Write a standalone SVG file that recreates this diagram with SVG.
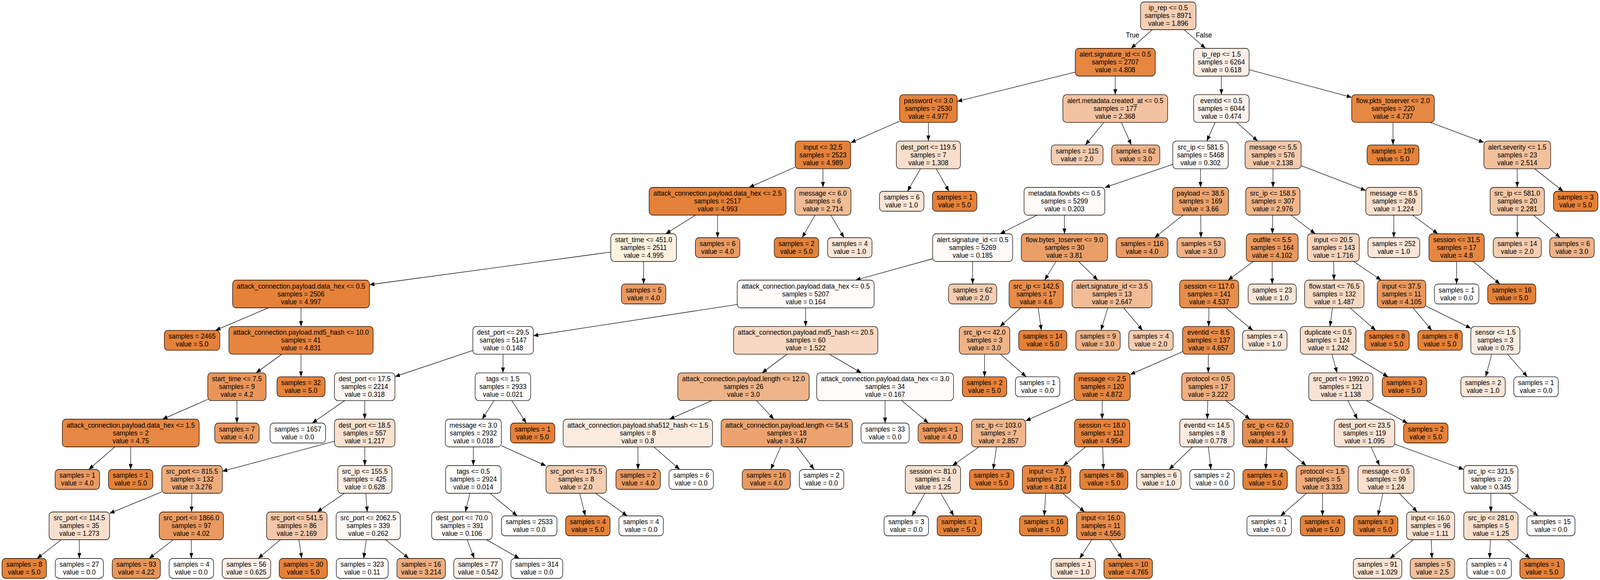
<svg xmlns="http://www.w3.org/2000/svg" width="4532" height="1485" viewBox="0 0 4532 1485" preserveAspectRatio="none">
<defs>
<style>
:root{width:100vw;height:100vh;overflow:hidden}
text{font-family:"Liberation Sans",Arial,Helvetica,sans-serif;font-size:18.8px;text-anchor:middle;fill:#000}
.n rect{stroke:#000;stroke-width:1.4}
#edges line{stroke:#000;stroke-width:1.3;fill:none;marker-end:url(#ah)}
</style>
<marker id="ah" viewBox="0 0 14 11" refX="14" refY="5.5" markerWidth="14" markerHeight="11" markerUnits="userSpaceOnUse" orient="auto"><path d="M0,0L14,5.5L0,11z" fill="#000"/></marker>
</defs>
<rect width="4532" height="1485" fill="#fff"/>
<g id="edges">
<line x1="3264.1" y1="76" x2="3203.9" y2="123.7"/>
<line x1="3354" y1="76" x2="3414.5" y2="123.7"/>
<line x1="3045.7" y1="184.6" x2="2711.2" y2="259.6"/>
<line x1="3159" y1="194.7" x2="3159" y2="242.4"/>
<line x1="3459.5" y1="194.7" x2="3459.5" y2="242.4"/>
<line x1="3538.1" y1="178.4" x2="3828.7" y2="249.3"/>
<line x1="2548.2" y1="310.3" x2="2409.6" y2="365.4"/>
<line x1="2629.7" y1="313.4" x2="2629.7" y2="361.1"/>
<line x1="3126.7" y1="313.4" x2="3074.2" y2="371.1"/>
<line x1="3176.4" y1="313.4" x2="3204.5" y2="371.1"/>
<line x1="3441.9" y1="313.4" x2="3418.2" y2="361.1"/>
<line x1="3503.3" y1="313.4" x2="3562.2" y2="361.1"/>
<line x1="3945.7" y1="313.4" x2="3945.7" y2="371.1"/>
<line x1="4051" y1="313.4" x2="4203.1" y2="364.7"/>
<line x1="2252.4" y1="427.9" x2="2121.8" y2="479.8"/>
<line x1="2331" y1="432.1" x2="2331" y2="479.8"/>
<line x1="2607.1" y1="432.1" x2="2570.3" y2="489.8"/>
<line x1="2651.9" y1="432.1" x2="2688" y2="489.8"/>
<line x1="3321.9" y1="420.8" x2="3129.4" y2="480.1"/>
<line x1="3400.5" y1="432.1" x2="3400.5" y2="479.8"/>
<line x1="3605.9" y1="432.1" x2="3605.7" y2="479.8"/>
<line x1="3685.4" y1="424.2" x2="3868.6" y2="487.7"/>
<line x1="4297.6" y1="432.1" x2="4297.6" y2="479.8"/>
<line x1="4347.1" y1="432.1" x2="4427.5" y2="489.8"/>
<line x1="1969.8" y1="550.8" x2="1885.7" y2="598.5"/>
<line x1="2032.5" y1="550.8" x2="2032.5" y2="608.5"/>
<line x1="2308.6" y1="550.8" x2="2272.1" y2="608.5"/>
<line x1="2353.7" y1="550.8" x2="2390.7" y2="608.5"/>
<line x1="2937.2" y1="550.8" x2="2832.8" y2="598.5"/>
<line x1="3015" y1="550.8" x2="3015" y2="598.5"/>
<line x1="3351" y1="550.8" x2="3270.6" y2="608.5"/>
<line x1="3401" y1="550.8" x2="3401.7" y2="608.5"/>
<line x1="3604.9" y1="550.8" x2="3604.1" y2="598.5"/>
<line x1="3656.7" y1="550.8" x2="3725.4" y2="598.5"/>
<line x1="3948" y1="550.8" x2="3948" y2="608.5"/>
<line x1="4001.2" y1="550.8" x2="4072.6" y2="598.5"/>
<line x1="4297.6" y1="550.8" x2="4297.6" y2="608.5"/>
<line x1="4344" y1="550.8" x2="4419.3" y2="608.5"/>
<line x1="1730" y1="645.4" x2="1046.5" y2="729"/>
<line x1="1823" y1="669.5" x2="1823" y2="727.2"/>
<line x1="2641.7" y1="662.5" x2="2423.5" y2="717.2"/>
<line x1="2755" y1="669.5" x2="2755" y2="727.2"/>
<line x1="2991.1" y1="669.5" x2="2958.9" y2="717.2"/>
<line x1="3055.3" y1="669.5" x2="3109.4" y2="717.2"/>
<line x1="3550.1" y1="669.5" x2="3478.4" y2="717.2"/>
<line x1="3603.5" y1="669.5" x2="3603.5" y2="727.2"/>
<line x1="3777.4" y1="669.5" x2="3778.6" y2="717.2"/>
<line x1="3834.4" y1="669.5" x2="3912" y2="717.2"/>
<line x1="4125.8" y1="669.5" x2="4125.8" y2="727.2"/>
<line x1="4172.5" y1="669.5" x2="4248.5" y2="727.2"/>
<line x1="760.3" y1="788.2" x2="610.3" y2="845.9"/>
<line x1="852.6" y1="788.2" x2="852.6" y2="835.9"/>
<line x1="2088.2" y1="779.6" x2="1510.7" y2="859.5"/>
<line x1="2282" y1="788.2" x2="2282" y2="835.9"/>
<line x1="2891.2" y1="788.2" x2="2832.5" y2="835.9"/>
<line x1="2940.6" y1="788.2" x2="2949.6" y2="845.9"/>
<line x1="3137.8" y1="788.2" x2="3118.5" y2="845.9"/>
<line x1="3182.7" y1="788.2" x2="3236.3" y2="845.9"/>
<line x1="3424.4" y1="788.2" x2="3423.6" y2="835.9"/>
<line x1="3472.1" y1="788.2" x2="3548.7" y2="845.9"/>
<line x1="3774.2" y1="788.2" x2="3767.2" y2="835.9"/>
<line x1="3824" y1="788.2" x2="3896.6" y2="845.9"/>
<line x1="4002.5" y1="788.2" x2="4055.5" y2="845.9"/>
<line x1="4038.5" y1="783.4" x2="4166.2" y2="840.4"/>
<line x1="798.3" y1="906.9" x2="725.3" y2="954.6"/>
<line x1="852.6" y1="906.9" x2="852.6" y2="964.6"/>
<line x1="1339.3" y1="897.4" x2="1118.7" y2="964.2"/>
<line x1="1424.9" y1="906.9" x2="1424.7" y2="954.6"/>
<line x1="2229.4" y1="906.9" x2="2158.6" y2="954.6"/>
<line x1="2349.3" y1="906.9" x2="2439.7" y2="954.6"/>
<line x1="2788.7" y1="906.9" x2="2788.7" y2="964.6"/>
<line x1="2833.7" y1="906.9" x2="2906.7" y2="964.6"/>
<line x1="3349.6" y1="900.4" x2="3201.4" y2="958.8"/>
<line x1="3422.7" y1="906.9" x2="3422.3" y2="954.6"/>
<line x1="3772.8" y1="906.9" x2="3787.2" y2="954.6"/>
<line x1="3826.6" y1="906.9" x2="3931.6" y2="964.6"/>
<line x1="4225.2" y1="906.9" x2="4208.2" y2="964.6"/>
<line x1="4270.1" y1="906.9" x2="4326.1" y2="964.6"/>
<line x1="588.5" y1="1022.7" x2="460.2" y2="1073.3"/>
<line x1="671" y1="1025.6" x2="671" y2="1083.3"/>
<line x1="976.4" y1="1025.6" x2="884.3" y2="1083.3"/>
<line x1="1033" y1="1025.6" x2="1033" y2="1073.3"/>
<line x1="1399.4" y1="1025.6" x2="1365.8" y2="1073.3"/>
<line x1="1449.7" y1="1025.6" x2="1490.6" y2="1083.3"/>
<line x1="2016.5" y1="1025.6" x2="1896.2" y2="1073.3"/>
<line x1="2142.7" y1="1025.6" x2="2192" y2="1073.3"/>
<line x1="2507" y1="1025.6" x2="2507" y2="1083.3"/>
<line x1="2553.8" y1="1025.6" x2="2629.8" y2="1083.3"/>
<line x1="3042.6" y1="1022.2" x2="2905.3" y2="1077.7"/>
<line x1="3121.9" y1="1025.6" x2="3121.9" y2="1073.3"/>
<line x1="3421" y1="1025.6" x2="3419.6" y2="1073.3"/>
<line x1="3472.6" y1="1025.6" x2="3540.5" y2="1073.3"/>
<line x1="3818" y1="1025.6" x2="3845" y2="1073.3"/>
<line x1="3869.9" y1="1025.6" x2="3986.8" y2="1083.3"/>
<line x1="325.1" y1="1144.3" x2="251.5" y2="1202"/>
<line x1="370.2" y1="1144.3" x2="370.1" y2="1202"/>
<line x1="947.3" y1="1129.6" x2="629.7" y2="1206.7"/>
<line x1="1033.2" y1="1144.3" x2="1033.4" y2="1192"/>
<line x1="1340.7" y1="1144.3" x2="1340.7" y2="1192"/>
<line x1="1420.1" y1="1141.2" x2="1546.3" y2="1192.6"/>
<line x1="1806.9" y1="1144.3" x2="1807.3" y2="1202"/>
<line x1="1851.9" y1="1144.3" x2="1925.3" y2="1202"/>
<line x1="2211.3" y1="1144.3" x2="2183.1" y2="1202"/>
<line x1="2258.1" y1="1144.3" x2="2305.9" y2="1202"/>
<line x1="2772.9" y1="1144.3" x2="2698.1" y2="1192"/>
<line x1="2822.7" y1="1144.3" x2="2813.2" y2="1202"/>
<line x1="3074.7" y1="1144.3" x2="3011.5" y2="1192"/>
<line x1="3123.2" y1="1144.3" x2="3125.6" y2="1202"/>
<line x1="3377.8" y1="1144.3" x2="3311.6" y2="1202"/>
<line x1="3422.8" y1="1144.3" x2="3429.9" y2="1202"/>
<line x1="3588.7" y1="1144.3" x2="3585" y2="1202"/>
<line x1="3637.4" y1="1144.3" x2="3699.6" y2="1192"/>
<line x1="3883.2" y1="1144.3" x2="3907.6" y2="1192"/>
<line x1="3950.7" y1="1137.2" x2="4145.9" y2="1202"/>
<line x1="458.3" y1="1259.4" x2="310.4" y2="1314.3"/>
<line x1="543.4" y1="1263" x2="542.6" y2="1310.7"/>
<line x1="975.8" y1="1263" x2="898.4" y2="1310.7"/>
<line x1="1036.3" y1="1263" x2="1040.2" y2="1310.7"/>
<line x1="1331" y1="1263" x2="1318" y2="1310.7"/>
<line x1="1388.1" y1="1263" x2="1465" y2="1320.7"/>
<line x1="1641.9" y1="1263" x2="1657.9" y2="1320.7"/>
<line x1="1687" y1="1263" x2="1776.5" y2="1320.7"/>
<line x1="2619.9" y1="1263" x2="2583.2" y2="1320.7"/>
<line x1="2664.9" y1="1263" x2="2701.4" y2="1320.7"/>
<line x1="2961.9" y1="1263" x2="2957.8" y2="1320.7"/>
<line x1="3010.3" y1="1263" x2="3072.1" y2="1310.7"/>
<line x1="3700.8" y1="1263" x2="3627.4" y2="1320.7"/>
<line x1="3746" y1="1263" x2="3746" y2="1320.7"/>
<line x1="3917.1" y1="1263" x2="3902.9" y2="1320.7"/>
<line x1="3963.6" y1="1263" x2="4014.3" y2="1310.7"/>
<line x1="4222.8" y1="1263" x2="4222.9" y2="1310.7"/>
<line x1="4273.6" y1="1263" x2="4356.4" y2="1320.7"/>
<line x1="173.9" y1="1381.7" x2="105.1" y2="1429.7"/>
<line x1="224.7" y1="1381.7" x2="224.7" y2="1429.7"/>
<line x1="491.2" y1="1381.7" x2="422.5" y2="1429.7"/>
<line x1="542" y1="1381.7" x2="542" y2="1429.7"/>
<line x1="794.2" y1="1381.7" x2="731.4" y2="1429.7"/>
<line x1="846.7" y1="1381.7" x2="854.7" y2="1429.7"/>
<line x1="1037.5" y1="1381.7" x2="1030" y2="1429.7"/>
<line x1="1091.9" y1="1381.7" x2="1157.9" y2="1429.7"/>
<line x1="1323.2" y1="1381.7" x2="1343.3" y2="1429.7"/>
<line x1="1377.4" y1="1381.7" x2="1470.9" y2="1429.7"/>
<line x1="3092.6" y1="1381.7" x2="3058.3" y2="1429.7"/>
<line x1="3143.3" y1="1381.7" x2="3177.5" y2="1429.7"/>
<line x1="4003.2" y1="1381.7" x2="3937.1" y2="1429.7"/>
<line x1="4053.8" y1="1381.7" x2="4056.2" y2="1429.7"/>
<line x1="4221.4" y1="1381.7" x2="4219.2" y2="1429.7"/>
<line x1="4270.2" y1="1381.7" x2="4334.1" y2="1429.7"/>
</g>
<g id="edge-labels">
<text x="3208" y="96">True</text>
<text x="3410" y="96">False</text>
</g>
<g id="node0" class="n"><rect x="3230.4" y="5" width="157.2" height="71" rx="10" fill="#f5cfb4"/><text><tspan x="3309" y="26.5">ip_rep &lt;= 0.5</tspan><tspan x="3309" y="46.5">samples = 8971</tspan><tspan x="3309" y="66.5">value = 1.896</tspan></text></g>
<g id="node1" class="n"><rect x="3045.6" y="123.7" width="226.7" height="71" rx="10" fill="#e68641"/><text><tspan x="3159" y="145.2">alert.signature_id &lt;= 0.5</tspan><tspan x="3159" y="165.2">samples = 2707</tspan><tspan x="3159" y="185.2">value = 4.808</tspan></text></g>
<g id="node2" class="n"><rect x="3380.9" y="123.7" width="157.2" height="71" rx="10" fill="#fcefe7"/><text><tspan x="3459.5" y="145.2">ip_rep &lt;= 1.5</tspan><tspan x="3459.5" y="165.2">samples = 6264</tspan><tspan x="3459.5" y="185.2">value = 0.618</tspan></text></g>
<g id="node3" class="n"><rect x="2548.2" y="242.4" width="163" height="71" rx="10" fill="#e5823a"/><text><tspan x="2629.7" y="263.9">password &lt;= 3.0</tspan><tspan x="2629.7" y="283.9">samples = 2530</tspan><tspan x="2629.7" y="303.9">value = 4.977</tspan></text></g>
<g id="node4" class="n"><rect x="3010.6" y="242.4" width="296.8" height="71" rx="10" fill="#f3c3a1"/><text><tspan x="3159" y="263.9">alert.metadata.created_at &lt;= 0.5</tspan><tspan x="3159" y="283.9">samples = 177</tspan><tspan x="3159" y="303.9">value = 2.368</tspan></text></g>
<g id="node5" class="n"><rect x="3380.9" y="242.4" width="157.2" height="71" rx="10" fill="#fdf3ec"/><text><tspan x="3459.5" y="263.9">eventid &lt;= 0.5</tspan><tspan x="3459.5" y="283.9">samples = 6044</tspan><tspan x="3459.5" y="303.9">value = 0.474</tspan></text></g>
<g id="node6" class="n"><rect x="3828.7" y="242.4" width="234" height="71" rx="10" fill="#e68843"/><text><tspan x="3945.7" y="263.9">flow.pkts_toserver &lt;= 2.0</tspan><tspan x="3945.7" y="283.9">samples = 220</tspan><tspan x="3945.7" y="303.9">value = 4.737</tspan></text></g>
<g id="node7" class="n"><rect x="2252.4" y="361.1" width="157.2" height="71" rx="10" fill="#e58139"/><text><tspan x="2331" y="382.6">input &lt;= 32.5</tspan><tspan x="2331" y="402.6">samples = 2523</tspan><tspan x="2331" y="422.6">value = 4.989</tspan></text></g>
<g id="node8" class="n"><rect x="2538.8" y="361.1" width="181.8" height="71" rx="10" fill="#f8decb"/><text><tspan x="2629.7" y="382.6">dest_port &lt;= 119.5</tspan><tspan x="2629.7" y="402.6">samples = 7</tspan><tspan x="2629.7" y="422.6">value = 1.308</tspan></text></g>
<g id="node9" class="n"><rect x="2977.6" y="371.1" width="146.8" height="51" rx="10" fill="#f5cdb0"/><text><tspan x="3051" y="392.6">samples = 115</tspan><tspan x="3051" y="412.6">value = 2.0</tspan></text></g>
<g id="node10" class="n"><rect x="3148.9" y="371.1" width="136.3" height="51" rx="10" fill="#efb388"/><text><tspan x="3217" y="392.6">samples = 62</tspan><tspan x="3217" y="412.6">value = 3.0</tspan></text></g>
<g id="node11" class="n"><rect x="3321.9" y="361.1" width="157.2" height="71" rx="10" fill="#fdf7f3"/><text><tspan x="3400.5" y="382.6">src_ip &lt;= 581.5</tspan><tspan x="3400.5" y="402.6">samples = 5468</tspan><tspan x="3400.5" y="422.6">value = 0.302</tspan></text></g>
<g id="node12" class="n"><rect x="3526.6" y="361.1" width="158.8" height="71" rx="10" fill="#f4c9aa"/><text><tspan x="3606" y="382.6">message &lt;= 5.5</tspan><tspan x="3606" y="402.6">samples = 576</tspan><tspan x="3606" y="422.6">value = 2.138</tspan></text></g>
<g id="node13" class="n"><rect x="3872.3" y="371.1" width="146.8" height="51" rx="10" fill="#e58139"/><text><tspan x="3945.7" y="392.6">samples = 197</tspan><tspan x="3945.7" y="412.6">value = 5.0</tspan></text></g>
<g id="node14" class="n"><rect x="4203.1" y="361.1" width="189.1" height="71" rx="10" fill="#f2c09b"/><text><tspan x="4297.6" y="382.6">alert.severity &lt;= 1.5</tspan><tspan x="4297.6" y="402.6">samples = 23</tspan><tspan x="4297.6" y="422.6">value = 2.514</tspan></text></g>
<g id="node15" class="n"><rect x="1838.7" y="479.8" width="387.7" height="71" rx="10" fill="#e58139"/><text><tspan x="2032.5" y="501.3">attack_connection.payload.data_hex &lt;= 2.5</tspan><tspan x="2032.5" y="521.3">samples = 2517</tspan><tspan x="2032.5" y="541.3">value = 4.993</tspan></text></g>
<g id="node16" class="n"><rect x="2251.6" y="479.8" width="158.8" height="71" rx="10" fill="#f1bb93"/><text><tspan x="2331" y="501.3">message &lt;= 6.0</tspan><tspan x="2331" y="521.3">samples = 6</tspan><tspan x="2331" y="541.3">value = 2.714</tspan></text></g>
<g id="node17" class="n"><rect x="2491.1" y="489.8" width="125.9" height="51" rx="10" fill="#fae6d7"/><text><tspan x="2554" y="511.3">samples = 6</tspan><tspan x="2554" y="531.3">value = 1.0</tspan></text></g>
<g id="node18" class="n"><rect x="2641.1" y="489.8" width="125.9" height="51" rx="10" fill="#e58139"/><text><tspan x="2704" y="511.3">samples = 1</tspan><tspan x="2704" y="531.3">value = 5.0</tspan></text></g>
<g id="node19" class="n"><rect x="2900.6" y="479.8" width="228.8" height="71" rx="10" fill="#fefaf7"/><text><tspan x="3015" y="501.3">metadata.flowbits &lt;= 0.5</tspan><tspan x="3015" y="521.3">samples = 5299</tspan><tspan x="3015" y="541.3">value = 0.203</tspan></text></g>
<g id="node20" class="n"><rect x="3321.1" y="479.8" width="158.8" height="71" rx="10" fill="#eca36e"/><text><tspan x="3400.5" y="501.3">payload &lt;= 38.5</tspan><tspan x="3400.5" y="521.3">samples = 169</tspan><tspan x="3400.5" y="541.3">value = 3.66</tspan></text></g>
<g id="node21" class="n"><rect x="3528.7" y="479.8" width="153.6" height="71" rx="10" fill="#f0b489"/><text><tspan x="3605.5" y="501.3">src_ip &lt;= 158.5</tspan><tspan x="3605.5" y="521.3">samples = 307</tspan><tspan x="3605.5" y="541.3">value = 2.976</tspan></text></g>
<g id="node22" class="n"><rect x="3868.6" y="479.8" width="158.8" height="71" rx="10" fill="#f9e0ce"/><text><tspan x="3948" y="501.3">message &lt;= 8.5</tspan><tspan x="3948" y="521.3">samples = 269</tspan><tspan x="3948" y="541.3">value = 1.224</tspan></text></g>
<g id="node23" class="n"><rect x="4220.8" y="479.8" width="153.6" height="71" rx="10" fill="#f3c6a5"/><text><tspan x="4297.6" y="501.3">src_ip &lt;= 581.0</tspan><tspan x="4297.6" y="521.3">samples = 20</tspan><tspan x="4297.6" y="541.3">value = 2.281</tspan></text></g>
<g id="node24" class="n"><rect x="4400.1" y="489.8" width="125.9" height="51" rx="10" fill="#e58139"/><text><tspan x="4463" y="511.3">samples = 3</tspan><tspan x="4463" y="531.3">value = 5.0</tspan></text></g>
<g id="node25" class="n"><rect x="1730" y="598.5" width="186" height="71" rx="10" fill="#fdf2df"/><text><tspan x="1823" y="620">start_time &lt;= 451.0</tspan><tspan x="1823" y="640">samples = 2511</tspan><tspan x="1823" y="660">value = 4.995</tspan></text></g>
<g id="node26" class="n"><rect x="1969.6" y="608.5" width="125.9" height="51" rx="10" fill="#ea9a61"/><text><tspan x="2032.5" y="630">samples = 6</tspan><tspan x="2032.5" y="650">value = 4.0</tspan></text></g>
<g id="node27" class="n"><rect x="2193.1" y="608.5" width="125.9" height="51" rx="10" fill="#e58139"/><text><tspan x="2256" y="630">samples = 2</tspan><tspan x="2256" y="650">value = 5.0</tspan></text></g>
<g id="node28" class="n"><rect x="2344.1" y="608.5" width="125.9" height="51" rx="10" fill="#fae6d7"/><text><tspan x="2407" y="630">samples = 4</tspan><tspan x="2407" y="650">value = 1.0</tspan></text></g>
<g id="node29" class="n"><rect x="2641.7" y="598.5" width="226.7" height="71" rx="10" fill="#fefaf8"/><text><tspan x="2755" y="620">alert.signature_id &lt;= 0.5</tspan><tspan x="2755" y="640">samples = 5269</tspan><tspan x="2755" y="660">value = 0.185</tspan></text></g>
<g id="node30" class="n"><rect x="2892.8" y="598.5" width="244.5" height="71" rx="10" fill="#eb9f68"/><text><tspan x="3015" y="620">flow.bytes_toserver &lt;= 9.0</tspan><tspan x="3015" y="640">samples = 30</tspan><tspan x="3015" y="660">value = 3.81</tspan></text></g>
<g id="node31" class="n"><rect x="3161.6" y="608.5" width="146.8" height="51" rx="10" fill="#ea9a61"/><text><tspan x="3235" y="630">samples = 116</tspan><tspan x="3235" y="650">value = 4.0</tspan></text></g>
<g id="node32" class="n"><rect x="3333.9" y="608.5" width="136.3" height="51" rx="10" fill="#efb388"/><text><tspan x="3402" y="630">samples = 53</tspan><tspan x="3402" y="650">value = 3.0</tspan></text></g>
<g id="node33" class="n"><rect x="3530.1" y="598.5" width="146.8" height="71" rx="10" fill="#ea985d"/><text><tspan x="3603.5" y="620">outfile &lt;= 5.5</tspan><tspan x="3603.5" y="640">samples = 164</tspan><tspan x="3603.5" y="660">value = 4.102</tspan></text></g>
<g id="node34" class="n"><rect x="3703.2" y="598.5" width="146.8" height="71" rx="10" fill="#f6d4bb"/><text><tspan x="3776.6" y="620">input &lt;= 20.5</tspan><tspan x="3776.6" y="640">samples = 143</tspan><tspan x="3776.6" y="660">value = 1.716</tspan></text></g>
<g id="node35" class="n"><rect x="3874.6" y="608.5" width="146.8" height="51" rx="10" fill="#fae6d7"/><text><tspan x="3948" y="630">samples = 252</tspan><tspan x="3948" y="650">value = 1.0</tspan></text></g>
<g id="node36" class="n"><rect x="4047.5" y="598.5" width="156.7" height="71" rx="10" fill="#e68641"/><text><tspan x="4125.8" y="620">session &lt;= 31.5</tspan><tspan x="4125.8" y="640">samples = 17</tspan><tspan x="4125.8" y="660">value = 4.8</tspan></text></g>
<g id="node37" class="n"><rect x="4229.5" y="608.5" width="136.3" height="51" rx="10" fill="#f5cdb0"/><text><tspan x="4297.6" y="630">samples = 14</tspan><tspan x="4297.6" y="650">value = 2.0</tspan></text></g>
<g id="node38" class="n"><rect x="4389.7" y="608.5" width="125.9" height="51" rx="10" fill="#efb388"/><text><tspan x="4452.6" y="630">samples = 6</tspan><tspan x="4452.6" y="650">value = 3.0</tspan></text></g>
<g id="node39" class="n"><rect x="658.8" y="717.2" width="387.7" height="71" rx="10" fill="#e58139"/><text><tspan x="852.6" y="738.7">attack_connection.payload.data_hex &lt;= 0.5</tspan><tspan x="852.6" y="758.7">samples = 2506</tspan><tspan x="852.6" y="778.7">value = 4.997</tspan></text></g>
<g id="node40" class="n"><rect x="1760.1" y="727.2" width="125.9" height="51" rx="10" fill="#ea9a61"/><text><tspan x="1823" y="748.7">samples = 5</tspan><tspan x="1823" y="768.7">value = 4.0</tspan></text></g>
<g id="node41" class="n"><rect x="2088.2" y="717.2" width="387.7" height="71" rx="10" fill="#fefbf9"/><text><tspan x="2282" y="738.7">attack_connection.payload.data_hex &lt;= 0.5</tspan><tspan x="2282" y="758.7">samples = 5207</tspan><tspan x="2282" y="778.7">value = 0.164</tspan></text></g>
<g id="node42" class="n"><rect x="2686.9" y="727.2" width="136.3" height="51" rx="10" fill="#f5cdb0"/><text><tspan x="2755" y="748.7">samples = 62</tspan><tspan x="2755" y="768.7">value = 2.0</tspan></text></g>
<g id="node43" class="n"><rect x="2858.2" y="717.2" width="153.6" height="71" rx="10" fill="#e78b49"/><text><tspan x="2935" y="738.7">src_ip &lt;= 142.5</tspan><tspan x="2935" y="758.7">samples = 17</tspan><tspan x="2935" y="778.7">value = 4.6</tspan></text></g>
<g id="node44" class="n"><rect x="3036.4" y="717.2" width="226.7" height="71" rx="10" fill="#f1bc96"/><text><tspan x="3149.7" y="738.7">alert.signature_id &lt;= 3.5</tspan><tspan x="3149.7" y="758.7">samples = 13</tspan><tspan x="3149.7" y="778.7">value = 2.647</tspan></text></g>
<g id="node45" class="n"><rect x="3341.4" y="717.2" width="167.2" height="71" rx="10" fill="#e78d4b"/><text><tspan x="3425" y="738.7">session &lt;= 117.0</tspan><tspan x="3425" y="758.7">samples = 141</tspan><tspan x="3425" y="778.7">value = 4.537</tspan></text></g>
<g id="node46" class="n"><rect x="3535.4" y="727.2" width="136.3" height="51" rx="10" fill="#fae6d7"/><text><tspan x="3603.5" y="748.7">samples = 23</tspan><tspan x="3603.5" y="768.7">value = 1.0</tspan></text></g>
<g id="node47" class="n"><rect x="3695.3" y="717.2" width="168.2" height="71" rx="10" fill="#f7dac4"/><text><tspan x="3779.4" y="738.7">flow.start &lt;= 76.5</tspan><tspan x="3779.4" y="758.7">samples = 132</tspan><tspan x="3779.4" y="778.7">value = 1.487</tspan></text></g>
<g id="node48" class="n"><rect x="3901.1" y="717.2" width="137.4" height="71" rx="10" fill="#ea985c"/><text><tspan x="3969.8" y="738.7">input &lt;= 37.5</tspan><tspan x="3969.8" y="758.7">samples = 11</tspan><tspan x="3969.8" y="778.7">value = 4.105</tspan></text></g>
<g id="node49" class="n"><rect x="4062.9" y="727.2" width="125.9" height="51" rx="10" fill="#ffffff"/><text><tspan x="4125.8" y="748.7">samples = 1</tspan><tspan x="4125.8" y="768.7">value = 0.0</tspan></text></g>
<g id="node50" class="n"><rect x="4213.9" y="727.2" width="136.3" height="51" rx="10" fill="#e58139"/><text><tspan x="4282" y="748.7">samples = 16</tspan><tspan x="4282" y="768.7">value = 5.0</tspan></text></g>
<g id="node51" class="n"><rect x="465.4" y="845.9" width="157.2" height="51" rx="10" fill="#e58139"/><text><tspan x="544" y="867.4">samples = 2465</tspan><tspan x="544" y="887.4">value = 5.0</tspan></text></g>
<g id="node52" class="n"><rect x="648.3" y="835.9" width="408.6" height="71" rx="10" fill="#e68540"/><text><tspan x="852.6" y="857.4">attack_connection.payload.md5_hash &lt;= 10.0</tspan><tspan x="852.6" y="877.4">samples = 41</tspan><tspan x="852.6" y="897.4">value = 4.831</tspan></text></g>
<g id="node53" class="n"><rect x="1339.3" y="835.9" width="171.4" height="71" rx="10" fill="#fefbf9"/><text><tspan x="1425" y="857.4">dest_port &lt;= 29.5</tspan><tspan x="1425" y="877.4">samples = 5147</tspan><tspan x="1425" y="897.4">value = 0.148</tspan></text></g>
<g id="node54" class="n"><rect x="2077.7" y="835.9" width="408.6" height="71" rx="10" fill="#f7d9c3"/><text><tspan x="2282" y="857.4">attack_connection.payload.md5_hash &lt;= 20.5</tspan><tspan x="2282" y="877.4">samples = 60</tspan><tspan x="2282" y="897.4">value = 1.522</tspan></text></g>
<g id="node55" class="n"><rect x="2717.2" y="835.9" width="143.1" height="71" rx="10" fill="#efb388"/><text><tspan x="2788.7" y="857.4">src_ip &lt;= 42.0</tspan><tspan x="2788.7" y="877.4">samples = 3</tspan><tspan x="2788.7" y="897.4">value = 3.0</tspan></text></g>
<g id="node56" class="n"><rect x="2885.5" y="845.9" width="136.3" height="51" rx="10" fill="#e58139"/><text><tspan x="2953.6" y="867.4">samples = 14</tspan><tspan x="2953.6" y="887.4">value = 5.0</tspan></text></g>
<g id="node57" class="n"><rect x="3047.1" y="845.9" width="125.9" height="51" rx="10" fill="#efb388"/><text><tspan x="3110" y="867.4">samples = 9</tspan><tspan x="3110" y="887.4">value = 3.0</tspan></text></g>
<g id="node58" class="n"><rect x="3197.1" y="845.9" width="125.9" height="51" rx="10" fill="#f5cdb0"/><text><tspan x="3260" y="867.4">samples = 4</tspan><tspan x="3260" y="887.4">value = 2.0</tspan></text></g>
<g id="node59" class="n"><rect x="3349.6" y="835.9" width="146.8" height="71" rx="10" fill="#e78a47"/><text><tspan x="3423" y="857.4">eventid &lt;= 8.5</tspan><tspan x="3423" y="877.4">samples = 137</tspan><tspan x="3423" y="897.4">value = 4.657</tspan></text></g>
<g id="node60" class="n"><rect x="3519.6" y="845.9" width="125.9" height="51" rx="10" fill="#fae6d7"/><text><tspan x="3582.5" y="867.4">samples = 4</tspan><tspan x="3582.5" y="887.4">value = 1.0</tspan></text></g>
<g id="node61" class="n"><rect x="3683.1" y="835.9" width="157.8" height="71" rx="10" fill="#f9e0ce"/><text><tspan x="3762" y="857.4">duplicate &lt;= 0.5</tspan><tspan x="3762" y="877.4">samples = 124</tspan><tspan x="3762" y="897.4">value = 1.242</tspan></text></g>
<g id="node62" class="n"><rect x="3865.7" y="845.9" width="125.9" height="51" rx="10" fill="#e58139"/><text><tspan x="3928.6" y="867.4">samples = 8</tspan><tspan x="3928.6" y="887.4">value = 5.0</tspan></text></g>
<g id="node63" class="n"><rect x="4016.1" y="845.9" width="125.9" height="51" rx="10" fill="#e58139"/><text><tspan x="4079" y="867.4">samples = 8</tspan><tspan x="4079" y="887.4">value = 5.0</tspan></text></g>
<g id="node64" class="n"><rect x="4166.2" y="835.9" width="139" height="71" rx="10" fill="#fbece1"/><text><tspan x="4235.7" y="857.4">sensor &lt;= 1.5</tspan><tspan x="4235.7" y="877.4">samples = 3</tspan><tspan x="4235.7" y="897.4">value = 0.75</tspan></text></g>
<g id="node65" class="n"><rect x="588.5" y="954.6" width="165" height="71" rx="10" fill="#e99559"/><text><tspan x="671" y="976.1">start_time &lt;= 7.5</tspan><tspan x="671" y="996.1">samples = 9</tspan><tspan x="671" y="1016.1">value = 4.2</tspan></text></g>
<g id="node66" class="n"><rect x="784.5" y="964.6" width="136.3" height="51" rx="10" fill="#e58139"/><text><tspan x="852.6" y="986.1">samples = 32</tspan><tspan x="852.6" y="1006.1">value = 5.0</tspan></text></g>
<g id="node67" class="n"><rect x="947.3" y="954.6" width="171.4" height="71" rx="10" fill="#fdf7f2"/><text><tspan x="1033" y="976.1">dest_port &lt;= 17.5</tspan><tspan x="1033" y="996.1">samples = 2214</tspan><tspan x="1033" y="1016.1">value = 0.318</tspan></text></g>
<g id="node68" class="n"><rect x="1345.9" y="954.6" width="157.2" height="71" rx="10" fill="#fffefe"/><text><tspan x="1424.5" y="976.1">tags &lt;= 1.5</tspan><tspan x="1424.5" y="996.1">samples = 2933</tspan><tspan x="1424.5" y="1016.1">value = 0.021</tspan></text></g>
<g id="node70" class="n"><rect x="1920" y="954.6" width="372" height="71" rx="10" fill="#efb388"/><text><tspan x="2106" y="976.1">attack_connection.payload.length &lt;= 12.0</tspan><tspan x="2106" y="996.1">samples = 26</tspan><tspan x="2106" y="1016.1">value = 3.0</tspan></text></g>
<g id="node71" class="n"><rect x="2313.2" y="954.6" width="387.7" height="71" rx="10" fill="#fefbf8"/><text><tspan x="2507" y="976.1">attack_connection.payload.data_hex &lt;= 3.0</tspan><tspan x="2507" y="996.1">samples = 34</tspan><tspan x="2507" y="1016.1">value = 0.167</tspan></text></g>
<g id="node72" class="n"><rect x="2725.8" y="964.6" width="125.9" height="51" rx="10" fill="#e58139"/><text><tspan x="2788.7" y="986.1">samples = 2</tspan><tspan x="2788.7" y="1006.1">value = 5.0</tspan></text></g>
<g id="node73" class="n"><rect x="2876.1" y="964.6" width="125.9" height="51" rx="10" fill="#ffffff"/><text><tspan x="2939" y="986.1">samples = 1</tspan><tspan x="2939" y="1006.1">value = 0.0</tspan></text></g>
<g id="node74" class="n"><rect x="3042.6" y="954.6" width="158.8" height="71" rx="10" fill="#e6843e"/><text><tspan x="3122" y="976.1">message &lt;= 2.5</tspan><tspan x="3122" y="996.1">samples = 120</tspan><tspan x="3122" y="1016.1">value = 4.872</tspan></text></g>
<g id="node75" class="n"><rect x="3347.3" y="954.6" width="149.4" height="71" rx="10" fill="#eeae7f"/><text><tspan x="3422" y="976.1">protocol &lt;= 0.5</tspan><tspan x="3422" y="996.1">samples = 17</tspan><tspan x="3422" y="1016.1">value = 3.222</tspan></text></g>
<g id="node76" class="n"><rect x="3707.1" y="954.6" width="181.8" height="71" rx="10" fill="#f9e2d2"/><text><tspan x="3798" y="976.1">src_port &lt;= 1992.0</tspan><tspan x="3798" y="996.1">samples = 121</tspan><tspan x="3798" y="1016.1">value = 1.138</tspan></text></g>
<g id="node77" class="n"><rect x="3915.1" y="964.6" width="125.9" height="51" rx="10" fill="#e58139"/><text><tspan x="3978" y="986.1">samples = 3</tspan><tspan x="3978" y="1006.1">value = 5.0</tspan></text></g>
<g id="node78" class="n"><rect x="4137.8" y="964.6" width="125.9" height="51" rx="10" fill="#fae6d7"/><text><tspan x="4200.7" y="986.1">samples = 2</tspan><tspan x="4200.7" y="1006.1">value = 1.0</tspan></text></g>
<g id="node79" class="n"><rect x="4287.9" y="964.6" width="125.9" height="51" rx="10" fill="#ffffff"/><text><tspan x="4350.8" y="986.1">samples = 1</tspan><tspan x="4350.8" y="1006.1">value = 0.0</tspan></text></g>
<g id="node69" class="n"><rect x="1445.8" y="1083.3" width="125.9" height="51" rx="10" fill="#e58139"/><text><tspan x="1508.7" y="1104.8">samples = 1</tspan><tspan x="1508.7" y="1124.8">value = 5.0</tspan></text></g>
<g id="node80" class="n"><rect x="176.5" y="1073.3" width="387.7" height="71" rx="10" fill="#e68743"/><text><tspan x="370.3" y="1094.8">attack_connection.payload.data_hex &lt;= 1.5</tspan><tspan x="370.3" y="1114.8">samples = 2</tspan><tspan x="370.3" y="1134.8">value = 4.75</tspan></text></g>
<g id="node81" class="n"><rect x="608.1" y="1083.3" width="125.9" height="51" rx="10" fill="#ea9a61"/><text><tspan x="671" y="1104.8">samples = 7</tspan><tspan x="671" y="1124.8">value = 4.0</tspan></text></g>
<g id="node82" class="n"><rect x="765" y="1083.3" width="157.2" height="51" rx="10" fill="#ffffff"/><text><tspan x="843.6" y="1104.8">samples = 1657</tspan><tspan x="843.6" y="1124.8">value = 0.0</tspan></text></g>
<g id="node83" class="n"><rect x="947.3" y="1073.3" width="171.4" height="71" rx="10" fill="#f9e0cf"/><text><tspan x="1033" y="1094.8">dest_port &lt;= 18.5</tspan><tspan x="1033" y="1114.8">samples = 557</tspan><tspan x="1033" y="1134.8">value = 1.217</tspan></text></g>
<g id="node84" class="n"><rect x="1261.3" y="1073.3" width="158.8" height="71" rx="10" fill="#fffffe"/><text><tspan x="1340.7" y="1094.8">message &lt;= 3.0</tspan><tspan x="1340.7" y="1114.8">samples = 2932</tspan><tspan x="1340.7" y="1134.8">value = 0.018</tspan></text></g>
<g id="node85" class="n"><rect x="1595.1" y="1073.3" width="423.2" height="71" rx="10" fill="#fbebdf"/><text><tspan x="1806.7" y="1094.8">attack_connection.payload.sha512_hash &lt;= 1.5</tspan><tspan x="1806.7" y="1114.8">samples = 8</tspan><tspan x="1806.7" y="1134.8">value = 0.8</tspan></text></g>
<g id="node86" class="n"><rect x="2042.7" y="1073.3" width="372" height="71" rx="10" fill="#eca36f"/><text><tspan x="2228.7" y="1094.8">attack_connection.payload.length &lt;= 54.5</tspan><tspan x="2228.7" y="1114.8">samples = 18</tspan><tspan x="2228.7" y="1134.8">value = 3.647</tspan></text></g>
<g id="node87" class="n"><rect x="2438.9" y="1083.3" width="136.3" height="51" rx="10" fill="#ffffff"/><text><tspan x="2507" y="1104.8">samples = 33</tspan><tspan x="2507" y="1124.8">value = 0.0</tspan></text></g>
<g id="node88" class="n"><rect x="2600.5" y="1083.3" width="125.9" height="51" rx="10" fill="#ea9a61"/><text><tspan x="2663.4" y="1104.8">samples = 1</tspan><tspan x="2663.4" y="1124.8">value = 4.0</tspan></text></g>
<g id="node89" class="n"><rect x="2751.7" y="1073.3" width="153.6" height="71" rx="10" fill="#f0b78e"/><text><tspan x="2828.5" y="1094.8">src_ip &lt;= 103.0</tspan><tspan x="2828.5" y="1114.8">samples = 7</tspan><tspan x="2828.5" y="1134.8">value = 2.857</tspan></text></g>
<g id="node90" class="n"><rect x="3043.5" y="1073.3" width="156.7" height="71" rx="10" fill="#e5823b"/><text><tspan x="3121.8" y="1094.8">session &lt;= 18.0</tspan><tspan x="3121.8" y="1114.8">samples = 113</tspan><tspan x="3121.8" y="1134.8">value = 4.954</tspan></text></g>
<g id="node91" class="n"><rect x="3341.7" y="1073.3" width="153.6" height="71" rx="10" fill="#fbebe0"/><text><tspan x="3418.5" y="1094.8">eventid &lt;= 14.5</tspan><tspan x="3418.5" y="1114.8">samples = 8</tspan><tspan x="3418.5" y="1134.8">value = 0.778</tspan></text></g>
<g id="node92" class="n"><rect x="3519.5" y="1073.3" width="143.1" height="71" rx="10" fill="#e88f4f"/><text><tspan x="3591" y="1094.8">src_ip &lt;= 62.0</tspan><tspan x="3591" y="1114.8">samples = 9</tspan><tspan x="3591" y="1134.8">value = 4.444</tspan></text></g>
<g id="node93" class="n"><rect x="3779.3" y="1073.3" width="171.4" height="71" rx="10" fill="#f9e3d4"/><text><tspan x="3865" y="1094.8">dest_port &lt;= 23.5</tspan><tspan x="3865" y="1114.8">samples = 119</tspan><tspan x="3865" y="1134.8">value = 1.095</tspan></text></g>
<g id="node94" class="n"><rect x="3975.6" y="1083.3" width="125.9" height="51" rx="10" fill="#e58139"/><text><tspan x="4038.5" y="1104.8">samples = 2</tspan><tspan x="4038.5" y="1124.8">value = 5.0</tspan></text></g>
<g id="node95" class="n"><rect x="156.1" y="1202" width="125.9" height="51" rx="10" fill="#ea9a61"/><text><tspan x="219" y="1223.5">samples = 1</tspan><tspan x="219" y="1243.5">value = 4.0</tspan></text></g>
<g id="node96" class="n"><rect x="307.1" y="1202" width="125.9" height="51" rx="10" fill="#e58139"/><text><tspan x="370" y="1223.5">samples = 1</tspan><tspan x="370" y="1243.5">value = 5.0</tspan></text></g>
<g id="node97" class="n"><rect x="458.3" y="1192" width="171.4" height="71" rx="10" fill="#eeac7d"/><text><tspan x="544" y="1213.5">src_port &lt;= 815.5</tspan><tspan x="544" y="1233.5">samples = 132</tspan><tspan x="544" y="1253.5">value = 3.276</tspan></text></g>
<g id="node98" class="n"><rect x="956.7" y="1192" width="153.6" height="71" rx="10" fill="#fcefe6"/><text><tspan x="1033.5" y="1213.5">src_ip &lt;= 155.5</tspan><tspan x="1033.5" y="1233.5">samples = 425</tspan><tspan x="1033.5" y="1253.5">value = 0.628</tspan></text></g>
<g id="node99" class="n"><rect x="1262.1" y="1192" width="157.2" height="71" rx="10" fill="#fffffe"/><text><tspan x="1340.7" y="1213.5">tags &lt;= 0.5</tspan><tspan x="1340.7" y="1233.5">samples = 2924</tspan><tspan x="1340.7" y="1253.5">value = 0.014</tspan></text></g>
<g id="node100" class="n"><rect x="1546.3" y="1192" width="171.4" height="71" rx="10" fill="#f5cdb0"/><text><tspan x="1632" y="1213.5">src_port &lt;= 175.5</tspan><tspan x="1632" y="1233.5">samples = 8</tspan><tspan x="1632" y="1253.5">value = 2.0</tspan></text></g>
<g id="node101" class="n"><rect x="1744.6" y="1202" width="125.9" height="51" rx="10" fill="#ea9a61"/><text><tspan x="1807.5" y="1223.5">samples = 2</tspan><tspan x="1807.5" y="1243.5">value = 4.0</tspan></text></g>
<g id="node102" class="n"><rect x="1894.9" y="1202" width="125.9" height="51" rx="10" fill="#ffffff"/><text><tspan x="1957.8" y="1223.5">samples = 6</tspan><tspan x="1957.8" y="1243.5">value = 0.0</tspan></text></g>
<g id="node103" class="n"><rect x="2102.5" y="1202" width="136.3" height="51" rx="10" fill="#ea9a61"/><text><tspan x="2170.6" y="1223.5">samples = 16</tspan><tspan x="2170.6" y="1243.5">value = 4.0</tspan></text></g>
<g id="node104" class="n"><rect x="2264.1" y="1202" width="125.9" height="51" rx="10" fill="#ffffff"/><text><tspan x="2327" y="1223.5">samples = 2</tspan><tspan x="2327" y="1243.5">value = 0.0</tspan></text></g>
<g id="node105" class="n"><rect x="2564.2" y="1192" width="156.7" height="71" rx="10" fill="#f8e0ce"/><text><tspan x="2642.5" y="1213.5">session &lt;= 81.0</tspan><tspan x="2642.5" y="1233.5">samples = 4</tspan><tspan x="2642.5" y="1253.5">value = 1.25</tspan></text></g>
<g id="node106" class="n"><rect x="2746.1" y="1202" width="125.9" height="51" rx="10" fill="#e58139"/><text><tspan x="2809" y="1223.5">samples = 3</tspan><tspan x="2809" y="1243.5">value = 5.0</tspan></text></g>
<g id="node107" class="n"><rect x="2895.7" y="1192" width="137.4" height="71" rx="10" fill="#e68640"/><text><tspan x="2964.4" y="1213.5">input &lt;= 7.5</tspan><tspan x="2964.4" y="1233.5">samples = 27</tspan><tspan x="2964.4" y="1253.5">value = 4.814</tspan></text></g>
<g id="node108" class="n"><rect x="3058.5" y="1202" width="136.3" height="51" rx="10" fill="#e58139"/><text><tspan x="3126.6" y="1223.5">samples = 86</tspan><tspan x="3126.6" y="1243.5">value = 5.0</tspan></text></g>
<g id="node109" class="n"><rect x="3219.4" y="1202" width="125.9" height="51" rx="10" fill="#fae6d7"/><text><tspan x="3282.3" y="1223.5">samples = 6</tspan><tspan x="3282.3" y="1243.5">value = 1.0</tspan></text></g>
<g id="node110" class="n"><rect x="3370.1" y="1202" width="125.9" height="51" rx="10" fill="#ffffff"/><text><tspan x="3433" y="1223.5">samples = 2</tspan><tspan x="3433" y="1243.5">value = 0.0</tspan></text></g>
<g id="node111" class="n"><rect x="3520.4" y="1202" width="125.9" height="51" rx="10" fill="#e58139"/><text><tspan x="3583.3" y="1223.5">samples = 4</tspan><tspan x="3583.3" y="1243.5">value = 5.0</tspan></text></g>
<g id="node112" class="n"><rect x="3671.3" y="1192" width="149.4" height="71" rx="10" fill="#eeab7b"/><text><tspan x="3746" y="1213.5">protocol &lt;= 1.5</tspan><tspan x="3746" y="1233.5">samples = 5</tspan><tspan x="3746" y="1253.5">value = 3.333</tspan></text></g>
<g id="node113" class="n"><rect x="3846.4" y="1192" width="158.8" height="71" rx="10" fill="#f9e0ce"/><text><tspan x="3925.8" y="1213.5">message &lt;= 0.5</tspan><tspan x="3925.8" y="1233.5">samples = 99</tspan><tspan x="3925.8" y="1253.5">value = 1.24</tspan></text></g>
<g id="node114" class="n"><rect x="4145.9" y="1192" width="153.6" height="71" rx="10" fill="#fdf6f1"/><text><tspan x="4222.7" y="1213.5">src_ip &lt;= 321.5</tspan><tspan x="4222.7" y="1233.5">samples = 20</tspan><tspan x="4222.7" y="1253.5">value = 0.345</tspan></text></g>
<g id="node115" class="n"><rect x="139" y="1310.7" width="171.4" height="71" rx="10" fill="#f8dfcd"/><text><tspan x="224.7" y="1332.2">src_port &lt;= 114.5</tspan><tspan x="224.7" y="1352.2">samples = 35</tspan><tspan x="224.7" y="1372.2">value = 1.273</tspan></text></g>
<g id="node116" class="n"><rect x="451.1" y="1310.7" width="181.8" height="71" rx="10" fill="#ea9a60"/><text><tspan x="542" y="1332.2">src_port &lt;= 1866.0</tspan><tspan x="542" y="1352.2">samples = 97</tspan><tspan x="542" y="1372.2">value = 4.02</tspan></text></g>
<g id="node117" class="n"><rect x="755" y="1310.7" width="171.4" height="71" rx="10" fill="#f4c8a9"/><text><tspan x="840.7" y="1332.2">src_port &lt;= 541.5</tspan><tspan x="840.7" y="1352.2">samples = 86</tspan><tspan x="840.7" y="1372.2">value = 2.169</tspan></text></g>
<g id="node118" class="n"><rect x="952.1" y="1310.7" width="181.8" height="71" rx="10" fill="#fef8f5"/><text><tspan x="1043" y="1332.2">src_port &lt;= 2062.5</tspan><tspan x="1043" y="1352.2">samples = 339</tspan><tspan x="1043" y="1372.2">value = 0.262</tspan></text></g>
<g id="node119" class="n"><rect x="1222.6" y="1310.7" width="171.4" height="71" rx="10" fill="#fefcfb"/><text><tspan x="1308.3" y="1332.2">dest_port &lt;= 70.0</tspan><tspan x="1308.3" y="1352.2">samples = 391</tspan><tspan x="1308.3" y="1372.2">value = 0.106</tspan></text></g>
<g id="node120" class="n"><rect x="1420.4" y="1320.7" width="157.2" height="51" rx="10" fill="#ffffff"/><text><tspan x="1499" y="1342.2">samples = 2533</tspan><tspan x="1499" y="1362.2">value = 0.0</tspan></text></g>
<g id="node121" class="n"><rect x="1602.1" y="1320.7" width="125.9" height="51" rx="10" fill="#e58139"/><text><tspan x="1665" y="1342.2">samples = 4</tspan><tspan x="1665" y="1362.2">value = 5.0</tspan></text></g>
<g id="node122" class="n"><rect x="1753.1" y="1320.7" width="125.9" height="51" rx="10" fill="#ffffff"/><text><tspan x="1816" y="1342.2">samples = 4</tspan><tspan x="1816" y="1362.2">value = 0.0</tspan></text></g>
<g id="node123" class="n"><rect x="2504.1" y="1320.7" width="125.9" height="51" rx="10" fill="#ffffff"/><text><tspan x="2567" y="1342.2">samples = 3</tspan><tspan x="2567" y="1362.2">value = 0.0</tspan></text></g>
<g id="node124" class="n"><rect x="2654.6" y="1320.7" width="125.9" height="51" rx="10" fill="#e58139"/><text><tspan x="2717.5" y="1342.2">samples = 1</tspan><tspan x="2717.5" y="1362.2">value = 5.0</tspan></text></g>
<g id="node125" class="n"><rect x="2887.9" y="1320.7" width="136.3" height="51" rx="10" fill="#e58139"/><text><tspan x="2956" y="1342.2">samples = 16</tspan><tspan x="2956" y="1362.2">value = 5.0</tspan></text></g>
<g id="node126" class="n"><rect x="3049.3" y="1310.7" width="137.4" height="71" rx="10" fill="#e78c4b"/><text><tspan x="3118" y="1332.2">input &lt;= 16.0</tspan><tspan x="3118" y="1352.2">samples = 11</tspan><tspan x="3118" y="1372.2">value = 4.556</tspan></text></g>
<g id="node127" class="n"><rect x="3532.1" y="1320.7" width="125.9" height="51" rx="10" fill="#ffffff"/><text><tspan x="3595" y="1342.2">samples = 1</tspan><tspan x="3595" y="1362.2">value = 0.0</tspan></text></g>
<g id="node128" class="n"><rect x="3683.1" y="1320.7" width="125.9" height="51" rx="10" fill="#e58139"/><text><tspan x="3746" y="1342.2">samples = 4</tspan><tspan x="3746" y="1362.2">value = 5.0</tspan></text></g>
<g id="node129" class="n"><rect x="3833.7" y="1320.7" width="125.9" height="51" rx="10" fill="#e58139"/><text><tspan x="3896.6" y="1342.2">samples = 3</tspan><tspan x="3896.6" y="1362.2">value = 5.0</tspan></text></g>
<g id="node130" class="n"><rect x="3983.9" y="1310.7" width="136.3" height="71" rx="10" fill="#f9e3d3"/><text><tspan x="4052" y="1332.2">input &lt;= 16.0</tspan><tspan x="4052" y="1352.2">samples = 96</tspan><tspan x="4052" y="1372.2">value = 1.11</tspan></text></g>
<g id="node131" class="n"><rect x="4146.2" y="1310.7" width="153.6" height="71" rx="10" fill="#f8e0ce"/><text><tspan x="4223" y="1332.2">src_ip &lt;= 281.0</tspan><tspan x="4223" y="1352.2">samples = 5</tspan><tspan x="4223" y="1372.2">value = 1.25</tspan></text></g>
<g id="node132" class="n"><rect x="4324.9" y="1320.7" width="136.3" height="51" rx="10" fill="#ffffff"/><text><tspan x="4393" y="1342.2">samples = 15</tspan><tspan x="4393" y="1362.2">value = 0.0</tspan></text></g>
<g id="node133" class="n"><rect x="5.7" y="1429.7" width="125.9" height="51" rx="10" fill="#e58139"/><text><tspan x="68.6" y="1451.2">samples = 8</tspan><tspan x="68.6" y="1471.2">value = 5.0</tspan></text></g>
<g id="node134" class="n"><rect x="156.6" y="1429.7" width="136.3" height="51" rx="10" fill="#ffffff"/><text><tspan x="224.7" y="1451.2">samples = 27</tspan><tspan x="224.7" y="1471.2">value = 0.0</tspan></text></g>
<g id="node135" class="n"><rect x="317.9" y="1429.7" width="136.3" height="51" rx="10" fill="#e99558"/><text><tspan x="386" y="1451.2">samples = 93</tspan><tspan x="386" y="1471.2">value = 4.22</tspan></text></g>
<g id="node136" class="n"><rect x="479.1" y="1429.7" width="125.9" height="51" rx="10" fill="#ffffff"/><text><tspan x="542" y="1451.2">samples = 4</tspan><tspan x="542" y="1471.2">value = 0.0</tspan></text></g>
<g id="node137" class="n"><rect x="629.3" y="1429.7" width="137.4" height="51" rx="10" fill="#fcefe6"/><text><tspan x="698" y="1451.2">samples = 56</tspan><tspan x="698" y="1471.2">value = 0.625</tspan></text></g>
<g id="node138" class="n"><rect x="790.9" y="1429.7" width="136.3" height="51" rx="10" fill="#e58139"/><text><tspan x="859" y="1451.2">samples = 30</tspan><tspan x="859" y="1471.2">value = 5.0</tspan></text></g>
<g id="node139" class="n"><rect x="952.6" y="1429.7" width="146.8" height="51" rx="10" fill="#fefcfb"/><text><tspan x="1026" y="1451.2">samples = 323</tspan><tspan x="1026" y="1471.2">value = 0.11</tspan></text></g>
<g id="node140" class="n"><rect x="1124.3" y="1429.7" width="137.4" height="51" rx="10" fill="#eeae80"/><text><tspan x="1193" y="1451.2">samples = 16</tspan><tspan x="1193" y="1471.2">value = 3.214</tspan></text></g>
<g id="node141" class="n"><rect x="1285.3" y="1429.7" width="137.4" height="51" rx="10" fill="#fcf1ea"/><text><tspan x="1354" y="1451.2">samples = 77</tspan><tspan x="1354" y="1471.2">value = 0.542</tspan></text></g>
<g id="node142" class="n"><rect x="1447.2" y="1429.7" width="146.8" height="51" rx="10" fill="#ffffff"/><text><tspan x="1520.6" y="1451.2">samples = 314</tspan><tspan x="1520.6" y="1471.2">value = 0.0</tspan></text></g>
<g id="node143" class="n"><rect x="2977.1" y="1429.7" width="125.9" height="51" rx="10" fill="#fae6d7"/><text><tspan x="3040" y="1451.2">samples = 1</tspan><tspan x="3040" y="1471.2">value = 1.0</tspan></text></g>
<g id="node144" class="n"><rect x="3126.9" y="1429.7" width="137.4" height="51" rx="10" fill="#e68742"/><text><tspan x="3195.6" y="1451.2">samples = 10</tspan><tspan x="3195.6" y="1471.2">value = 4.765</tspan></text></g>
<g id="node145" class="n"><rect x="3833.3" y="1429.7" width="137.4" height="51" rx="10" fill="#fae5d6"/><text><tspan x="3902" y="1451.2">samples = 91</tspan><tspan x="3902" y="1471.2">value = 1.029</tspan></text></g>
<g id="node146" class="n"><rect x="3994.6" y="1429.7" width="125.9" height="51" rx="10" fill="#f2c09c"/><text><tspan x="4057.5" y="1451.2">samples = 5</tspan><tspan x="4057.5" y="1471.2">value = 2.5</tspan></text></g>
<g id="node147" class="n"><rect x="4155.1" y="1429.7" width="125.9" height="51" rx="10" fill="#ffffff"/><text><tspan x="4218" y="1451.2">samples = 4</tspan><tspan x="4218" y="1471.2">value = 0.0</tspan></text></g>
<g id="node148" class="n"><rect x="4305.1" y="1429.7" width="125.9" height="51" rx="10" fill="#e58139"/><text><tspan x="4368" y="1451.2">samples = 1</tspan><tspan x="4368" y="1471.2">value = 5.0</tspan></text></g>
</svg>
